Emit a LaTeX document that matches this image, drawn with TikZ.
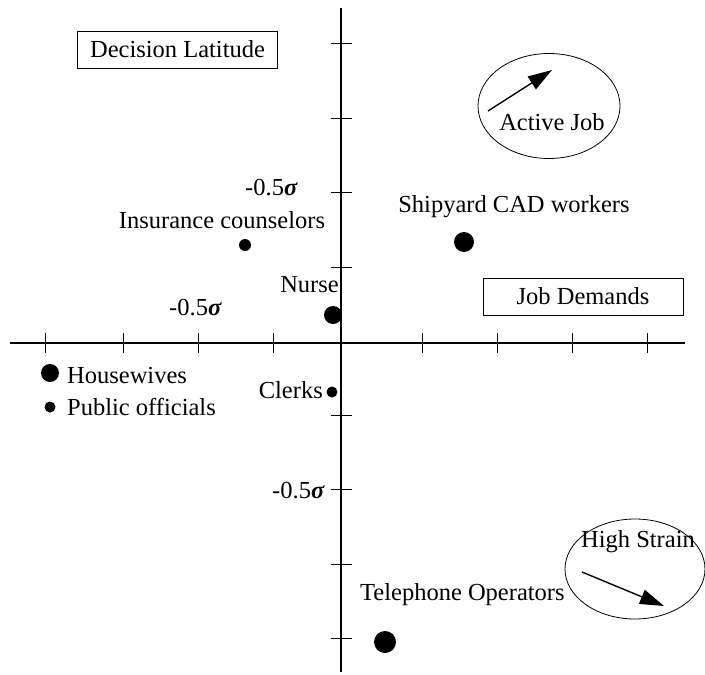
\documentclass[tikz,border=0pt]{standalone}
\usepackage{fontspec}
\setmainfont{Liberation Serif}
\usetikzlibrary{arrows.meta,shapes.geometric}
\newcommand\sigbi{\textbf{\textit{σ}}}
\begin{document}
\begin{tikzpicture}[x=1pt,y=-1pt,
  lbl/.style={inner sep=0pt,font=\fontsize{24.5}{28}\selectfont,text height=16pt,text depth=5pt},
  dot/.style={circle,fill=black,inner sep=0pt,minimum size=#1},
  dot/.default=12pt,
  axisline/.style={line width=1.1pt},
  tick/.style={line width=0.9pt},
  labelbox/.style={draw,line width=0.8pt,rectangle,minimum width=200pt,minimum height=37pt,inner sep=0pt,font=\fontsize{24.5}{28}\selectfont},
  oval/.style={draw,line width=0.8pt,ellipse,inner sep=0pt},
  bigarrow/.style={line width=1.4pt,-{Triangle[length=24pt,width=15pt]}}]
\useasboundingbox (0,0) rectangle (705,675);
% axes
\coordinate (xl) at (10,343);
\coordinate (xr) at (685,343);
\coordinate (yt) at (341,8);
\coordinate (yb) at (341,672);
\draw[axisline] (xl) -- (xr);
\draw[axisline] (yt) -- (yb);
\foreach \x in {45,123,198,273,422,497,572,647}
  \draw[tick] (\x,333) -- (\x,353);
\foreach \y in {43,118,192,267,415,489,564,638}
  \draw[tick] (331,\y) -- (352,\y);
% boxes
\node[labelbox] (dl) at (177.5,49.5) {Decision Latitude};
\node[labelbox] (jd) at (583,296.5) {Job Demands};
% sigma labels
\node[lbl,anchor=east] (s1) at (298,190) {-0.5\sigbi};
\node[lbl,anchor=east] (s2) at (222,310) {-0.5\sigbi};
\node[lbl,anchor=east] (s3) at (325,493) {-0.5\sigbi};
% active job
\node[oval,minimum width=142pt,minimum height=105pt] (ajell) at (549,106) {};
\node[lbl] (aj) at (552,125) {Active Job};
\coordinate (aja) at (488,111);
\coordinate (ajb) at (552,70);
\draw[bigarrow] (aja) -- (ajb);
% high strain
\node[oval,minimum width=140pt,minimum height=100pt] (hsell) at (635,569) {};
\node[lbl] (hs) at (638,542) {High Strain};
\coordinate (hsa) at (582,572);
\coordinate (hsb) at (664,606);
\draw[bigarrow] (hsa) -- (hsb);
% data points
\node[dot=12pt] (ins) at (245,245) {};
\node[lbl] (inst) at (222,223) {Insurance counselors};
\node[dot=20pt] (ship) at (464,242) {};
\node[lbl] (shipt) at (514,207) {Shipyard CAD workers};
\node[dot=18pt] (nurse) at (333,315) {};
\node[lbl,anchor=east] (nurset) at (339,287) {Nurse};
\node[dot=18pt] (hw) at (50,373) {};
\node[lbl,anchor=west] (hwt) at (67,378) {Housewives};
\node[dot=11pt] (po) at (50,407) {};
\node[lbl,anchor=west] (pot) at (67,410) {Public officials};
\node[dot=11pt] (cl) at (332,392) {};
\node[lbl,anchor=east] (clt) at (323,393) {Clerks};
\node[dot=22pt] (tel) at (385,642) {};
\node[lbl,anchor=west] (telt) at (360,595) {Telephone Operators};
\end{tikzpicture}
\end{document}
